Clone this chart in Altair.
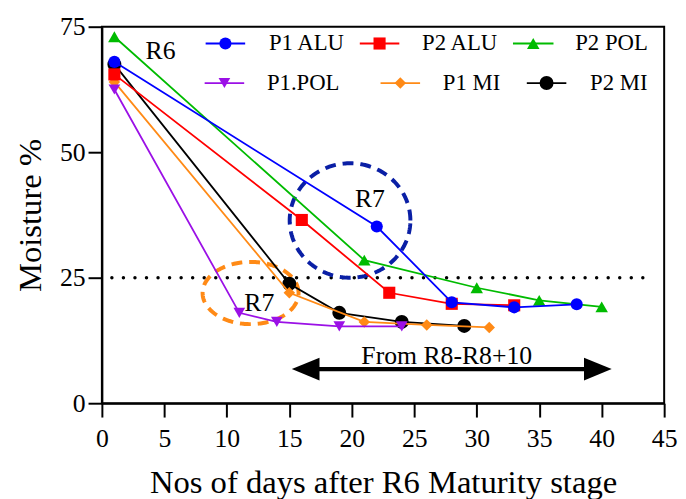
import altair as alt
import pandas as pd

# ---------------- data ----------------
series_names = ["P1 ALU", "P2 ALU", "P2 POL", "P1.POL", "P1 MI", "P2 MI"]

p1_alu_day = [1, 22, 28, 33, 38]
p1_alu_moist = [68.0, 35.2, 20.1, 19.1, 19.7]

p2_alu_day = [1, 16, 23, 28, 33]
p2_alu_moist = [65.5, 36.5, 22.0, 19.8, 19.5]

p2_pol_day = [1, 21, 30, 35, 40]
p2_pol_moist = [73.0, 28.5, 23.0, 20.5, 19.2]

p1_pol_day = [1, 11, 14, 19, 24]
p1_pol_moist = [62.5, 18.0, 16.2, 15.3, 15.3]

p1_mi_day = [1, 15, 21, 26, 31]
p1_mi_moist = [64.0, 22.0, 16.2, 15.6, 15.1]

p2_mi_day = [1, 15, 19, 24, 29]
p2_mi_moist = [67.5, 23.8, 18.0, 16.2, 15.4]

x_ticks = [0, 5, 10, 15, 20, 25, 30, 35, 40, 45]
y_ticks = [0, 25, 50, 75]
threshold = 25
threshold_from, threshold_to = 0.8, 44.2

annot_labels = ["R6", "R7", "R7"]
annot_day = [3.5, 20.25, 11.4]
annot_moist = [68.5, 39.0, 18.3]

arrow_text = "From R8-R8+10"
arrow_from, arrow_to, arrow_level = 15.2, 40.8, 6.8
arrow_text_day, arrow_text_moist = 27.6, 7.9

# ellipses: centre day, centre moisture, radius (days), radius (moisture %)
blue_ellipse = (19.86, 36.4, 4.83, 11.4)
orange_ellipse = (11.9, 21.95, 3.84, 6.2)

# ---------------- styles ----------------
FONT = "Liberation Serif"
colors = {"P1 ALU": "#0000FF", "P2 ALU": "#FF0000", "P2 POL": "#00BB00",
          "P1.POL": "#9B10E6", "P1 MI": "#FF8A16", "P2 MI": "#000000"}
shapes = {"P1 ALU": "circle", "P2 ALU": "square", "P2 POL": "triangle-up",
          "P1.POL": "triangle-down", "P1 MI": "diamond", "P2 MI": "circle"}
sizes = {"P1 ALU": 150, "P2 ALU": 150, "P2 POL": 160,
         "P1.POL": 140, "P1 MI": 135, "P2 MI": 200}

series = {
    "P1 ALU": (p1_alu_day, p1_alu_moist),
    "P2 ALU": (p2_alu_day, p2_alu_moist),
    "P2 POL": (p2_pol_day, p2_pol_moist),
    "P1.POL": (p1_pol_day, p1_pol_moist),
    "P1 MI": (p1_mi_day, p1_mi_moist),
    "P2 MI": (p2_mi_day, p2_mi_moist),
}
draw_order = ["P2 MI", "P1 MI", "P1.POL", "P2 POL", "P2 ALU", "P1 ALU"]

x_scale = alt.Scale(domain=[0, 45], nice=False, zero=False)
y_scale = alt.Scale(domain=[0, 75], nice=False)
x_axis = alt.Axis(values=x_ticks, title="Nos of days after R6 Maturity stage",
                  labelPadding=9, titlePadding=15, format="d")
y_axis = alt.Axis(values=y_ticks, title="Moisture %", labelPadding=3,
                  titlePadding=12, format="d")


def X(field):
    return alt.X(field, type="quantitative", scale=x_scale, axis=x_axis)


def Y(field):
    return alt.Y(field, type="quantitative", scale=y_scale, axis=y_axis)


layers = []

# dotted 25 % line
ref_df = pd.DataFrame({"day": [threshold_from], "day2": [threshold_to], "moisture": [threshold]})
layers.append(
    alt.Chart(ref_df).mark_rule(color="black", strokeWidth=3.5, strokeDash=[0.01, 11.67],
                                strokeCap="round")
    .encode(x=X("day"), x2="day2", y=Y("moisture"))
)

# dashed ellipses
for (cx, cy, rx, ry), col in [(blue_ellipse, "#0A1FA5"), (orange_ellipse, "#FF8A16")]:
    layers.append(
        alt.Chart(alt.sequence(0, 6.33, 0.03, as_="t"))
        .transform_calculate(day=f"{cx} + {rx}*cos(datum.t)",
                             moisture=f"{cy} + {ry}*sin(datum.t)")
        .mark_line(color=col, strokeWidth=4, strokeDash=[11, 7])
        .encode(x=X("day"), y=Y("moisture"), order="t:Q")
    )

# series
for name in draw_order:
    xs, ys = series[name]
    df = pd.DataFrame({"day": xs, "moisture": ys})
    layers.append(
        alt.Chart(df).mark_line(color=colors[name], strokeWidth=1.8)
        .encode(x=X("day"), y=Y("moisture"))
    )
    layers.append(
        alt.Chart(df).mark_point(shape=shapes[name], filled=True, size=sizes[name],
                                 color=colors[name], opacity=1)
        .encode(x=X("day"), y=Y("moisture"))
    )

# annotation texts
ann_df = pd.DataFrame({"label": annot_labels, "day": annot_day, "moisture": annot_moist})
layers.append(
    alt.Chart(ann_df).mark_text(font=FONT, fontSize=26, align="left", baseline="alphabetic",
                                color="black")
    .encode(x=X("day"), y=Y("moisture"), text="label:N")
)

# double arrow
arrow_df = pd.DataFrame({"day": [arrow_from + 1.0], "day2": [arrow_to - 1.0],
                         "moisture": [arrow_level]})
layers.append(
    alt.Chart(arrow_df).mark_rule(color="black", strokeWidth=4.2)
    .encode(x=X("day"), x2="day2", y=Y("moisture"))
)
for pos, path in [(arrow_from, "M0,0L2,-0.82L2,0.82Z"), (arrow_to, "M0,0L-2,-0.82L-2,0.82Z")]:
    layers.append(
        alt.Chart(pd.DataFrame({"day": [pos], "moisture": [arrow_level]}))
        .mark_point(shape=path, size=784, filled=True, color="black", opacity=1, strokeWidth=0)
        .encode(x=X("day"), y=Y("moisture"))
    )
layers.append(
    alt.Chart(pd.DataFrame({"label": [arrow_text], "day": [arrow_text_day],
                            "moisture": [arrow_text_moist]}))
    .mark_text(font=FONT, fontSize=26, align="center", baseline="alphabetic", color="black")
    .encode(x=X("day"), y=Y("moisture"), text="label:N")
)

# hand-placed legend (pixel positions inside the plot area)
legend_layout = {
    "P1 ALU": (105, 145, 169, 17),
    "P2 ALU": (261, 301, 324, 17),
    "P2 POL": (416, 457, 479, 17),
    "P1.POL": (104, 144, 167, 57),
    "P1 MI": (282, 322, 345, 57),
    "P2 MI": (430, 470, 494, 57),
}
one = pd.DataFrame({"i": [0]})
for name in series_names:
    x1, x2, lx, ly = legend_layout[name]
    layers.append(
        alt.Chart(one).mark_rule(color=colors[name], strokeWidth=1.8)
        .encode(x=alt.value(x1), x2=alt.value(x2), y=alt.value(ly))
    )
    layers.append(
        alt.Chart(one).mark_point(shape=shapes[name], filled=True, size=sizes[name],
                                  color=colors[name], opacity=1)
        .encode(x=alt.value((x1 + x2) / 2), y=alt.value(ly))
    )
    layers.append(
        alt.Chart(one).mark_text(text=name, font=FONT, fontSize=23, align="left",
                                 baseline="middle", color="black")
        .encode(x=alt.value(lx), y=alt.value(ly))
    )

chart = (
    alt.layer(*layers)
    .properties(width=569, height=381,
                autosize=alt.AutoSizeParams(type="none"),
                padding={"left": 95, "top": 16, "right": 14, "bottom": 94},
                background="white")
    .configure_view(stroke="black", strokeWidth=2)
    .configure_axis(grid=False, domainColor="black", domainWidth=2, tickColor="black",
                    tickWidth=2, tickSize=14, labelFont=FONT, labelFontSize=26,
                    labelColor="black", titleFont=FONT, titleFontSize=33,
                    titleFontWeight="normal", titleColor="black", labelFlush=False)
)

chart.save("out.html", embed_options={"renderer": "svg", "actions": False})
